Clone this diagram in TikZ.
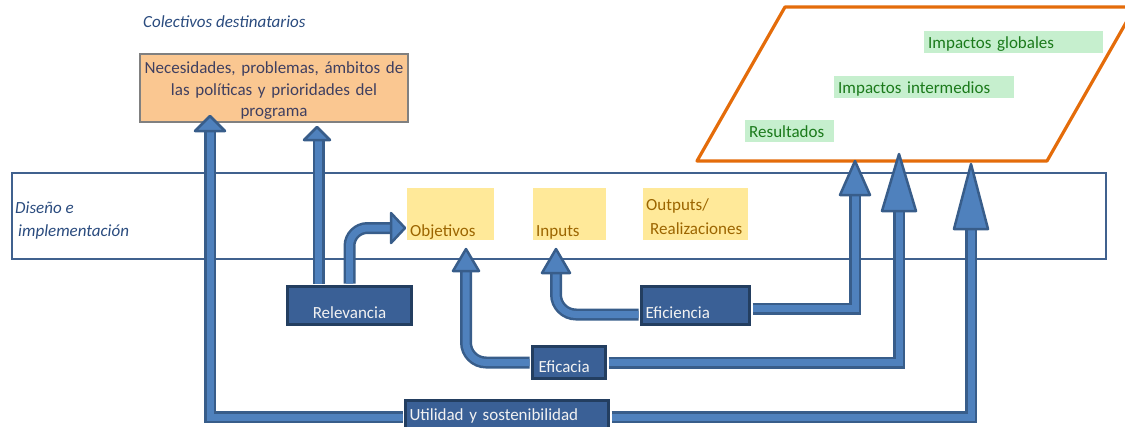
\documentclass[tikz,border=0pt]{standalone}
\usepackage{fontspec}
\setmainfont{Carlito}
\usetikzlibrary{positioning}

\definecolor{needfill}{HTML}{FAC791}
\definecolor{needline}{HTML}{808080}
\definecolor{needtext}{HTML}{3F3F60}
\definecolor{goodfill}{HTML}{C6EFCE}
\definecolor{goodtext}{HTML}{1B7A1B}
\definecolor{neutfill}{HTML}{FFE999}
\definecolor{neuttext}{HTML}{9C6500}
\definecolor{boxblue}{HTML}{3A6096}
\definecolor{boxline}{HTML}{233E60}
\definecolor{boxtext}{HTML}{F2F2F2}
\definecolor{arrowblue}{HTML}{4F81BD}
\definecolor{arrowdark}{HTML}{385D8A}
\definecolor{bandline}{HTML}{40618E}
\definecolor{tagblue}{HTML}{2A4B7E}
\definecolor{frameorange}{HTML}{E46C0A}

\newcommand{\headup}[3]{\filldraw[headfill] (#1) -- ++({-(#2)/2},#3) -- ++(#2,0) -- cycle;}
\newcommand{\headright}[3]{\filldraw[headfill] (#1) -- ++(-#3,{-(#2)/2}) -- ++(0,#2) -- cycle;}

\begin{document}
\begin{tikzpicture}[x=1pt,y=-1pt,
  font=\fontsize{17}{21.3}\selectfont,
  band/.style={draw=bandline,line width=1.5pt},
  frame/.style={draw=frameorange,line width=3.2pt,line join=round},
  needbox/.style={fill=needfill,draw=needline,line width=2pt,text=needtext,inner sep=3pt,
    text width=262pt,align=center,anchor=north west},
  goodbox/.style={fill=goodfill,text=goodtext,inner xsep=4pt,inner ysep=1pt,
    text height=16pt,text depth=4pt,anchor=north west,align=left},
  neutralbox/.style={fill=neutfill,text=neuttext,inner xsep=3pt,inner ysep=2pt,
    anchor=north west,align=left},
  critbox/.style={fill=boxblue,draw=boxline,line width=3pt,text=boxtext,
    anchor=north west,align=left},
  italiclabel/.style={text=tagblue,font=\fontsize{17}{21.3}\selectfont\itshape,
    anchor=base west,inner sep=0pt},
  shaft/.style={draw=arrowdark,line width=2.5pt,double=arrowblue,double distance=7pt,
    shorten <=1.5pt},
  headfill/.style={fill=arrowblue,draw=arrowdark,line width=2.5pt,line join=round}
]
\clip (0,0) rectangle (1125,426);

% program level
\node[italiclabel] (coltag) at (143,27) {Colectivos destinatarios};
\node[needbox,text height=16.7pt,text depth=45.3pt] (need) at (139,53)
  {Necesidades, problemas, ámbitos de\\ las políticas y prioridades del\\ programa};

% effects
\draw[frame] (785,7) -- (1135,7) -- (1047,161) -- (697,161) -- cycle;
\node[goodbox,text width=171pt] (glob) at (924,31) {Impactos globales};
\node[goodbox,text width=172pt] (inter) at (834,76) {Impactos intermedios};
\node[goodbox,text width=81pt] (resu) at (745,120) {Resultados};

% intervention
\draw[band] (12,173) rectangle (1106,259);
\node[italiclabel] (distag) at (15,213) {Diseño e};
\node[italiclabel] (imptag) at (18,236) {implementación};
\node[neutralbox,text width=81pt,text height=46pt,text depth=2pt] (obj) at (407,188) {Objetivos};
\node[neutralbox,text width=67pt,text height=46pt,text depth=2pt] (inp) at (533,188) {Inputs};
\node[neutralbox,text width=99pt,text height=20pt,text depth=28pt] (outp) at (643,188)
  {Outputs/\\[3pt]\hspace*{4pt}Realizaciones};

% criteria
\node[critbox,align=center,text width=116pt,inner xsep=4pt,inner ysep=4.5pt,
  text height=27pt,text depth=2pt] (rel) at (286,285) {Relevancia};
\node[critbox,text width=100pt,inner xsep=4pt,inner ysep=4.5pt,
  text height=27pt,text depth=2pt] (effi) at (640,285) {Eficiencia};
\node[critbox,text width=61pt,inner xsep=6pt,inner ysep=3pt,
  text height=23pt,text depth=3pt] (effc) at (531,345) {Eficacia};
\node[critbox,text width=195pt,inner xsep=4pt,inner ysep=3pt,
  text height=17pt,text depth=10pt] (util) at (404,399) {Utilidad y sostenibilidad};

\coordinate (tipNeedA) at (210,116);
\coordinate (tipNeedB) at (317,127);
\coordinate (tipObjR) at (405,228);
\coordinate (tipObjU) at (466,249);
\coordinate (tipInp) at (556,249);
\coordinate (tipRes) at (855,161);
\coordinate (tipInt) at (899,154);
\coordinate (tipGlo) at (971,164);

\draw[shaft] (util.west) -| ([yshift=-15pt]tipNeedA);
\draw[shaft] ([xshift=-31pt]rel.north) |- ([yshift=-13pt]tipNeedB);
\draw[shaft,rounded corners=18pt] (rel.north) |- ([xshift=-14pt]tipObjR);
\draw[shaft,rounded corners=20pt] (effc.west) -| ([yshift=-22pt]tipObjU);
\draw[shaft,rounded corners=20pt] ([yshift=-9pt]effi.west) -| ([yshift=-24pt]tipInp);
\draw[shaft] ([yshift=-3pt]effi.east) -| ([yshift=-34pt]tipRes);
\draw[shaft] (effc.east) -| ([yshift=-57pt]tipInt);
\draw[shaft] (util.east) -| ([yshift=-65pt]tipGlo);

\headup{tipNeedA}{30}{15}
\headup{tipNeedB}{26}{13}
\headright{tipObjR}{30}{14}
\headup{tipObjU}{26}{22}
\headup{tipInp}{28}{24}
\headup{tipRes}{30}{34}
\headup{tipInt}{34}{57}
\headup{tipGlo}{34}{65}
\end{tikzpicture}
\end{document}
